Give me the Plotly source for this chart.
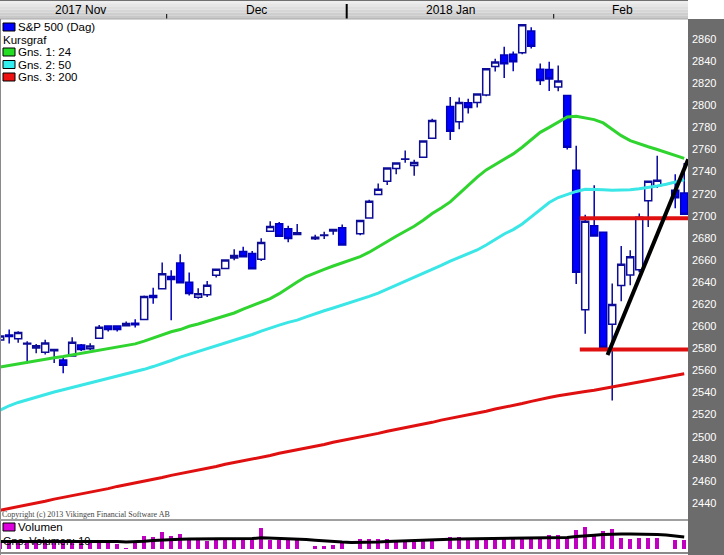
import plotly.graph_objects as go

W, H = 724, 555
PLOT_R = 688

# ---------------- DATA (one slot per weekday, None = no quote) ----------------
opens = [2587.5, 2592.1, 2588.7, 2584.0, 2580.2, 2576.5, 2577.8, 2569.5, 2573.0, 2582.9,
         2579.5, 2589.2, 2600.3, 2600.3, 2600.4, 2602.7, 2606.0, 2627.8, 2633.9, 2645.1,
         2657.2, 2639.8, 2626.2, 2628.4, 2646.2, 2652.2, 2661.7, 2667.6, 2665.9, 2660.6,
         2685.9, 2692.7, 2688.2, 2683.0, None, 2679.1, 2682.1, 2686.1, 2689.2, None,
         2683.7, 2697.9, 2719.3, 2731.3, 2742.7, 2751.2, 2745.6, 2753.0, 2770.2, None,
         2799.0, 2785.0, 2802.4, 2802.6, 2809.2, 2835.1, 2845.4, 2846.2, 2847.5, 2867.2,
         2832.7, 2832.4, 2816.5, 2808.9, 2741.1, 2614.8, 2691.0, 2685.0, 2601.8, 2636.8,
         2646.3, 2651.2, 2713.5, 2727.1, None, 2723.0, 2720.5]
highs = [2593.4, 2597.0, 2595.5, 2586.5, 2583.8, 2587.7, 2579.7, 2572.8, 2590.1, 2584.0,
         2584.6, 2601.2, 2600.9, 2600.9, 2604.2, 2606.4, 2627.7, 2634.9, 2657.7, 2650.6,
         2665.2, 2648.7, 2634.4, 2641.0, 2651.7, 2660.3, 2669.7, 2671.9, 2668.1, 2679.6,
         2695.0, 2694.4, 2691.0, 2692.6, None, 2682.7, 2685.6, 2687.7, 2692.1, None,
         2695.9, 2714.4, 2729.3, 2743.5, 2748.5, 2759.1, 2750.8, 2767.6, 2787.9, None,
         2807.5, 2807.0, 2805.8, 2810.3, 2833.0, 2842.2, 2853.0, 2848.6, 2872.9, 2870.6,
         2837.8, 2839.3, 2836.0, 2808.9, 2763.4, 2701.0, 2727.7, 2685.3, 2638.7, 2672.6,
         2668.8, 2702.1, 2731.5, 2754.4, None, 2737.6, 2747.8]
lows = [2585.7, 2584.4, 2585.0, 2566.3, 2575.6, 2574.5, 2566.6, 2557.5, 2573.0, 2577.6,
        2578.2, 2589.2, 2595.2, 2595.2, 2600.4, 2598.9, 2605.4, 2620.3, 2633.9, 2605.5,
        2639.0, 2627.7, 2624.8, 2626.5, 2644.1, 2651.5, 2659.8, 2662.9, 2652.0, 2659.1,
        2685.9, 2680.7, 2676.1, 2682.4, None, 2678.0, 2678.9, 2682.7, 2673.6, None,
        2682.4, 2697.8, 2719.1, 2727.9, 2737.6, 2747.9, 2736.1, 2752.8, 2769.6, None,
        2768.6, 2778.4, 2792.6, 2798.1, 2808.1, 2830.6, 2824.8, 2830.9, 2846.2, 2851.5,
        2818.3, 2813.0, 2812.7, 2760.0, 2638.2, 2593.1, 2681.3, 2580.6, 2532.7, 2622.5,
        2637.1, 2648.9, 2689.8, 2725.1, None, 2706.8, 2701.3]
closes = [2591.1, 2590.6, 2594.4, 2584.6, 2582.3, 2584.8, 2578.9, 2564.6, 2585.6, 2578.9,
          2582.1, 2599.0, 2597.1, 2597.1, 2602.4, 2601.4, 2627.0, 2626.1, 2647.6, 2642.2,
          2639.4, 2629.6, 2629.3, 2637.0, 2651.5, 2660.0, 2664.1, 2662.9, 2652.0, 2675.8,
          2690.2, 2681.5, 2679.3, 2684.6, None, 2680.5, 2682.6, 2687.5, 2673.6, None,
          2695.8, 2713.1, 2724.0, 2743.2, 2747.7, 2751.3, 2748.2, 2767.6, 2786.2, None,
          2776.4, 2802.6, 2798.0, 2810.3, 2833.0, 2839.1, 2837.5, 2839.3, 2872.9, 2853.5,
          2822.4, 2823.8, 2822.0, 2762.1, 2648.9, 2695.1, 2681.7, 2581.0, 2619.6, 2656.0,
          2662.9, 2698.6, 2731.2, 2732.2, None, 2716.3, 2701.3]

ma24 = [2563, 2564.5, 2566, 2567.5, 2569, 2570, 2571.5, 2572.5, 2574, 2575.5,
        2577, 2578.5, 2579.5, 2581, 2582.5, 2584, 2586.5, 2589.5, 2592, 2595,
        2597, 2600, 2602, 2604.5, 2606.5, 2609.5, 2612, 2615.5, 2618.5, 2621.5,
        2625, 2629.5, 2635, 2640, 2645, 2648.5, 2651.5, 2654.5, 2657.5, 2660.5,
        2663, 2667, 2672, 2677, 2681.5, 2686, 2690.5, 2696, 2702, 2707,
        2712.5, 2720, 2727.5, 2735, 2741.5, 2746.5, 2751, 2756, 2762, 2769,
        2775.5, 2780, 2785, 2789.5, 2790, 2788.5, 2787, 2784, 2778, 2772.5,
        2768, 2765, 2762.5, 2760, 2757.5, 2755, 2752]
ma50 = [2524, 2528, 2531, 2533.5, 2536, 2538.5, 2540.5, 2542.5, 2544.5, 2546.5,
        2548.5, 2550.5, 2552.5, 2554.5, 2556.5, 2558.5, 2561, 2563.5, 2566, 2569,
        2572, 2574.5, 2577, 2579.5, 2582, 2584.5, 2587, 2589.5, 2592.5, 2595.5,
        2598.5, 2601, 2603.5, 2605.5, 2608.5, 2611.5, 2614, 2616.5, 2619, 2621.5,
        2624, 2627, 2630, 2633.5, 2637, 2640.5, 2644, 2647.5, 2651.5, 2655,
        2659, 2662.5, 2666, 2669, 2673.5, 2678.5, 2683.5, 2687.5, 2692.5, 2699,
        2705.5, 2712, 2716.5, 2719.5, 2722, 2724, 2724, 2723.5, 2723, 2723,
        2723.5, 2724.5, 2725.5, 2727, 2728.5, 2730.5, 2732.5]
ma200 = [2433.5, 2435, 2437, 2438.5, 2440, 2441.5, 2443.5, 2445, 2446.5, 2448,
         2450, 2451.5, 2453, 2455, 2456.5, 2458, 2460, 2461.5, 2463, 2465,
         2466.5, 2468, 2470, 2471.5, 2473, 2475, 2476.5, 2478, 2480, 2481.5,
         2483, 2485, 2486.5, 2488, 2490, 2491.5, 2493, 2495, 2496.5, 2498,
         2500, 2501.5, 2503, 2505, 2506.5, 2508, 2510, 2511.5, 2513, 2515,
         2516.5, 2518, 2520, 2521.5, 2523, 2525, 2526.5, 2528, 2530, 2532,
         2534, 2535.5, 2537, 2538.5, 2540, 2541, 2542, 2543.5, 2545, 2546.5,
         2548, 2549.5, 2551, 2552.5, 2554, 2555.5, 2557]

volume = [8, 8.3, 6.7, 8.3, 8.3, 9, 8.3, 9, 8.3, 9,
          7.7, 6.7, 6.7, 5, 0.8, 8.3, 13.3, 12.3, 16.7, 13.3,
          15, 10, 9, 8.3, 9, 9, 10.7, 10, 10, 21,
          9, 9, 9, 9, None, 3.3, 3.3, 4, 6, None,
          10, 10, 10, 10, 9, 9, 9, 9, 9, None,
          12.3, 11.7, 10, 10, 10, 10.7, 10.7, 10.7, 11.7, 10.7,
          10.7, 14, 14.3, 12.3, 19, 22.3, 13.3, 17.7, 20, 11,
          10, 10.7, 10.7, 10.7, None, 9, 9]
volume_ma = [7.5, 7.5, 7.5, 7.5, 7.5, 7.5, 7.5, 7.5, 7.6, 7.7,
             7.8, 7.8, 7.7, 7.4, 7.0, 7.2, 7.8, 8.4, 9.0, 9.4,
             9.8, 10.0, 10.0, 10.1, 10.2, 10.2, 10.3, 10.3, 10.4, 11.2,
             11.0, 10.8, 10.6, 10.2, 9.6, 8.8, 8.0, 7.4, 6.9, 6.6,
             6.5, 6.7, 7.0, 7.4, 7.8, 8.3, 8.8, 9.2, 9.5, 9.6,
             9.8, 9.9, 10.0, 10.0, 10.1, 10.2, 10.3, 10.3, 10.4, 10.5,
             10.6, 10.8, 11.2, 11.6, 12.4, 13.4, 13.8, 14.4, 15.0, 15.1,
             15.0, 15.0, 14.8, 14.5, 14.0, 13.2, 12.0]

support_levels = [2697.7, 2579.0]
support_start_slot = 64.4
trend_slots = [67.48, 76.44]
trend_prices = [2574.0, 2751.1]

price_ticks = list(range(2440, 2861, 20))
month_labels = ["2017 Nov", "Dec", "2018 Jan", "Feb"]
month_label_slots = [8.9, 28.5, 50.0, 69.1]
month_bounds = [18.5, 38.5, 61.5]
month_bound_major = [False, True, False]

X_RANGE = [-0.02, 76.42]
Y_RANGE = [2425.5, 2878.1]

# --------------------------------------------------------------------------------
slots = list(range(len(opens)))
idx = [i for i in slots if opens[i] is not None]
vidx = [i for i in slots if volume[i] is not None]


def py(p):
    return 1 - p / H


def pxx(p):
    return p / W


FONT = "Liberation Sans, Arial, sans-serif"

fig = go.Figure()

fig.add_trace(go.Candlestick(
    x=[i for i in idx], open=[opens[i] for i in idx], high=[highs[i] for i in idx],
    low=[lows[i] for i in idx], close=[closes[i] for i in idx],
    increasing=dict(line=dict(color="#0c0c98", width=1.5), fillcolor="#ffffff"),
    decreasing=dict(line=dict(color="#0000b8", width=1.5), fillcolor="#0000ff"),
    whiskerwidth=0, showlegend=False, hoverinfo="skip",
    xaxis="x", yaxis="y"))

for vals, col in [(ma200, "#e01010"), (ma50, "#3ae6e6"), (ma24, "#2fd42f")]:
    fig.add_trace(go.Scatter(x=slots, y=vals, mode="lines",
                             line=dict(color=col, width=3), showlegend=False,
                             hoverinfo="skip", xaxis="x", yaxis="y"))

for lvl in support_levels:
    fig.add_trace(go.Scatter(x=[support_start_slot, X_RANGE[1]], y=[lvl, lvl], mode="lines",
                             line=dict(color="#e01010", width=4), showlegend=False,
                             hoverinfo="skip", xaxis="x", yaxis="y"))

fig.add_trace(go.Scatter(x=trend_slots, y=trend_prices, mode="lines",
                         line=dict(color="#000000", width=4), showlegend=False,
                         hoverinfo="skip", xaxis="x", yaxis="y"))

fig.add_trace(go.Bar(x=vidx, y=[volume[i] for i in vidx], marker=dict(color="#c000c0", line=dict(width=0)),
                     width=0.45, showlegend=False, hoverinfo="skip", xaxis="x2", yaxis="y2"))
fig.add_trace(go.Scatter(x=slots, y=volume_ma, mode="lines", line=dict(color="#000000", width=3),
                         showlegend=False, hoverinfo="skip", xaxis="x2", yaxis="y2"))

shapes = []
# header gradient
bands = ["#eeeeee", "#e6e6e6", "#dedede", "#d6d6d6", "#cecece", "#c8c8c8"]
for k, c in enumerate(bands):
    y0 = k * 19 / len(bands)
    y1 = (k + 1) * 19 / len(bands)
    shapes.append(dict(type="rect", xref="paper", yref="paper", x0=0, x1=pxx(PLOT_R),
                       y0=py(y1), y1=py(y0), fillcolor=c, line=dict(width=0), layer="below"))
shapes.append(dict(type="line", xref="paper", yref="paper", x0=0, x1=pxx(PLOT_R),
                   y0=py(0.5), y1=py(0.5), line=dict(color="#707070", width=1)))
shapes.append(dict(type="line", xref="paper", yref="paper", x0=0, x1=pxx(PLOT_R),
                   y0=py(19), y1=py(19), line=dict(color="#a8a8a8", width=1)))
# month boundaries in header
for b, major in zip(month_bounds, month_bound_major):
    shapes.append(dict(type="line", xref="x", yref="paper", x0=b, x1=b,
                       y0=py(18.5), y1=py(4 if major else 14),
                       line=dict(color="#000000", width=2 if major else 1)))
# right axis panel
shapes.append(dict(type="rect", xref="paper", yref="paper", x0=pxx(PLOT_R), x1=1,
                   y0=0, y1=py(19), fillcolor="#6c6c6c", line=dict(width=0), layer="below"))
# left border
shapes.append(dict(type="line", xref="paper", yref="paper", x0=pxx(0.5), x1=pxx(0.5),
                   y0=0, y1=py(19), line=dict(color="#8a8a8a", width=1)))
# pane separator and bottom border
shapes.append(dict(type="line", xref="paper", yref="paper", x0=0, x1=pxx(PLOT_R),
                   y0=py(520), y1=py(520), line=dict(color="#a0a0a0", width=2)))
shapes.append(dict(type="line", xref="paper", yref="paper", x0=0, x1=pxx(PLOT_R),
                   y0=py(553), y1=py(553), line=dict(color="#8a8a8a", width=2)))

# legend icons
legend_rows = [("S&P 500 (Dag)", "#0000ff", 27), ("Kursgraf", None, 40), ("Gns. 1: 24", "#22dd22", 52),
               ("Gns. 2: 50", "#33eeee", 64.5), ("Gns. 3: 200", "#ee1111", 77)]
annotations = []
for text, col, yc in legend_rows:
    if col:
        shapes.append(dict(type="rect", xref="paper", yref="paper", x0=pxx(3), x1=pxx(15),
                           y0=py(yc + 4), y1=py(yc - 4), fillcolor=col,
                           line=dict(color="#000000", width=1)))
        xt = 16
    else:
        xt = 1
    annotations.append(dict(text=text, xref="paper", yref="paper", x=pxx(xt), y=py(yc),
                            xanchor="left", yanchor="middle", showarrow=False,
                            font=dict(family=FONT, size=11.5, color="#000000")))

# volume legend
shapes.append(dict(type="rect", xref="paper", yref="paper", x0=pxx(3), x1=pxx(15),
                   y0=py(531), y1=py(523), fillcolor="#dd00dd", line=dict(color="#000000", width=1)))
annotations.append(dict(text="Volumen", xref="paper", yref="paper", x=pxx(16), y=py(527),
                        xanchor="left", yanchor="middle", showarrow=False,
                        font=dict(family=FONT, size=11.5, color="#000000")))
annotations.append(dict(text="Gns. Volumen: 10", xref="paper", yref="paper", x=pxx(1), y=py(541),
                        xanchor="left", yanchor="middle", showarrow=False,
                        font=dict(family=FONT, size=11, color="#000000")))

# month labels
for lab, s in zip(month_labels, month_label_slots):
    annotations.append(dict(text=lab, xref="x", yref="paper", x=s, y=py(9.5),
                            xanchor="center", yanchor="middle", showarrow=False,
                            font=dict(family=FONT, size=12, color="#000000")))

annotations.append(dict(text="Copyright (c) 2013 Vikingen Financial Software AB", xref="paper", yref="paper",
                        x=pxx(0), y=py(514.5), xanchor="left", yanchor="middle", showarrow=False,
                        font=dict(family="Liberation Serif, serif", size=8, color="#444444")))

fig.update_layout(
    width=W, height=H, margin=dict(l=0, r=0, t=0, b=0),
    paper_bgcolor="#ffffff", plot_bgcolor="#ffffff",
    boxgap=0.22, boxgroupgap=0, bargap=0,
    shapes=shapes, annotations=annotations,
    xaxis=dict(domain=[0, pxx(PLOT_R)], range=X_RANGE, showgrid=False, zeroline=False,
               showticklabels=False, ticks="", rangeslider=dict(visible=False), fixedrange=True,
               anchor="y"),
    yaxis=dict(domain=[py(519), py(19)], range=Y_RANGE, side="right", showgrid=False,
               zeroline=False, tickvals=price_ticks, ticktext=[str(t) for t in price_ticks],
               tickprefix="- ", ticks="", ticklabelstandoff=3,
               tickfont=dict(family=FONT, size=11, color="#ffffff"), anchor="x"),
    xaxis2=dict(domain=[0, pxx(PLOT_R)], range=X_RANGE, showgrid=False, zeroline=False,
                showticklabels=False, ticks="", anchor="y2", matches="x"),
    yaxis2=dict(domain=[py(549), py(521)], range=[0, 28], showgrid=False, zeroline=False,
                showticklabels=False, ticks="", anchor="x2"),
)

fig.write_html("out.html", config={"displayModeBar": False},
               post_script="document.body.style.margin='0';document.body.style.overflow='hidden';")
